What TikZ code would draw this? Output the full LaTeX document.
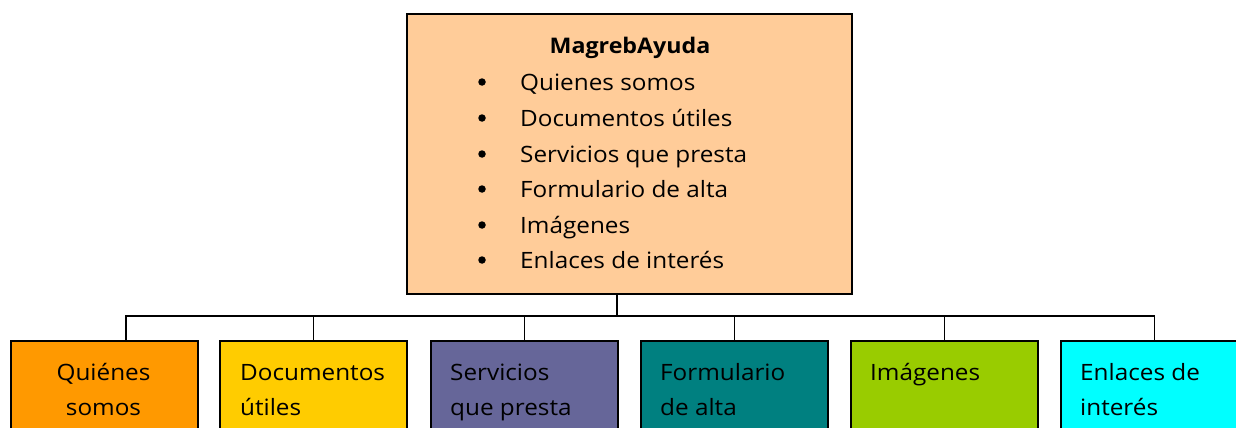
\documentclass[tikz,border=0pt]{standalone}
\usepackage{fontspec}
\setmainfont[FakeStretch=1.08]{Open Sans}
\definecolor{peach}{HTML}{FFCC99}
\definecolor{cOrange}{HTML}{FF9900}
\definecolor{cGold}{HTML}{FFCC00}
\definecolor{cPurple}{HTML}{666699}
\definecolor{cTeal}{HTML}{008080}
\definecolor{cLime}{HTML}{99CC00}
\definecolor{cCyan}{HTML}{00FFFF}
\begin{document}
\begin{tikzpicture}[x=1pt,y=-1pt,
  box/.style={draw=black, line width=1.8pt, anchor=north west, inner sep=0pt},
  leaf/.style={box, minimum width=187pt, minimum height=130pt},
  txt/.style={anchor=base west, inner sep=0pt, font=\fontsize{22.5}{26}\selectfont},
  ctxt/.style={txt, anchor=base},
  bul/.style={circle, fill=black, inner sep=0pt, minimum size=7.5pt},
  link/.style={draw=black, line width=1.4pt}]
\useasboundingbox (0,0) rectangle (1236,428);
\clip (0,0) rectangle (1236,428);

% top box
\node[box, fill=peach, minimum width=445pt, minimum height=280pt] (top) at (406,13) {};
\node[ctxt, font=\fontsize{21.5}{26}\selectfont\bfseries] (title) at (630,54) {MagrebAyuda};
\foreach \y/\t [count=\i] in {90/Quienes somos, 126/Documentos útiles, 162/Servicios que presta, 197/Formulario de alta, 233/Imágenes, 268/Enlaces de interés}{
  \node[bul] (bl\i) at (482,\y-8) {};
  \node[txt] (it\i) at (520,\y) {\t};
}

% leaf boxes
\node[leaf, fill=cOrange] (b1) at (10,340) {};
\node[leaf, fill=cGold]   (b2) at (219,340) {};
\node[leaf, fill=cPurple] (b3) at (430,340) {};
\node[leaf, fill=cTeal]   (b4) at (640,340) {};
\node[leaf, fill=cLime]   (b5) at (850,340) {};
\node[leaf, fill=cCyan]   (b6) at (1060,340) {};

% leaf texts
\node[ctxt] (l1a) at (103.5,380) {Quiénes};
\node[ctxt] (l1b) at (103.5,415) {somos};
\node[txt] (l2a) at (240,380) {Documentos};
\node[txt] (l2b) at (240,415) {útiles};
\node[txt] (l3a) at (450,380) {Servicios};
\node[txt] (l3b) at (450,415) {que presta};
\node[txt] (l4a) at (660,380) {Formulario};
\node[txt] (l4b) at (660,415) {de alta};
\node[txt] (l5a) at (870,380) {Imágenes};
\node[txt] (l6a) at (1080,380) {Enlaces de};
\node[txt] (l6b) at (1080,415) {interés};

% connectors
\coordinate (j) at (617,316);
\coordinate (c1) at (126,340);
\draw[link] (top.south -| j) -- (j);
\draw[link] (c1) |- (j) -| (b6.north);
\draw[link] (b2.north) -- (b2.north |- j);
\draw[link] (b3.north) -- (b3.north |- j);
\draw[link] (b4.north) -- (b4.north |- j);
\draw[link] (b5.north) -- (b5.north |- j);
\end{tikzpicture}
\end{document}
